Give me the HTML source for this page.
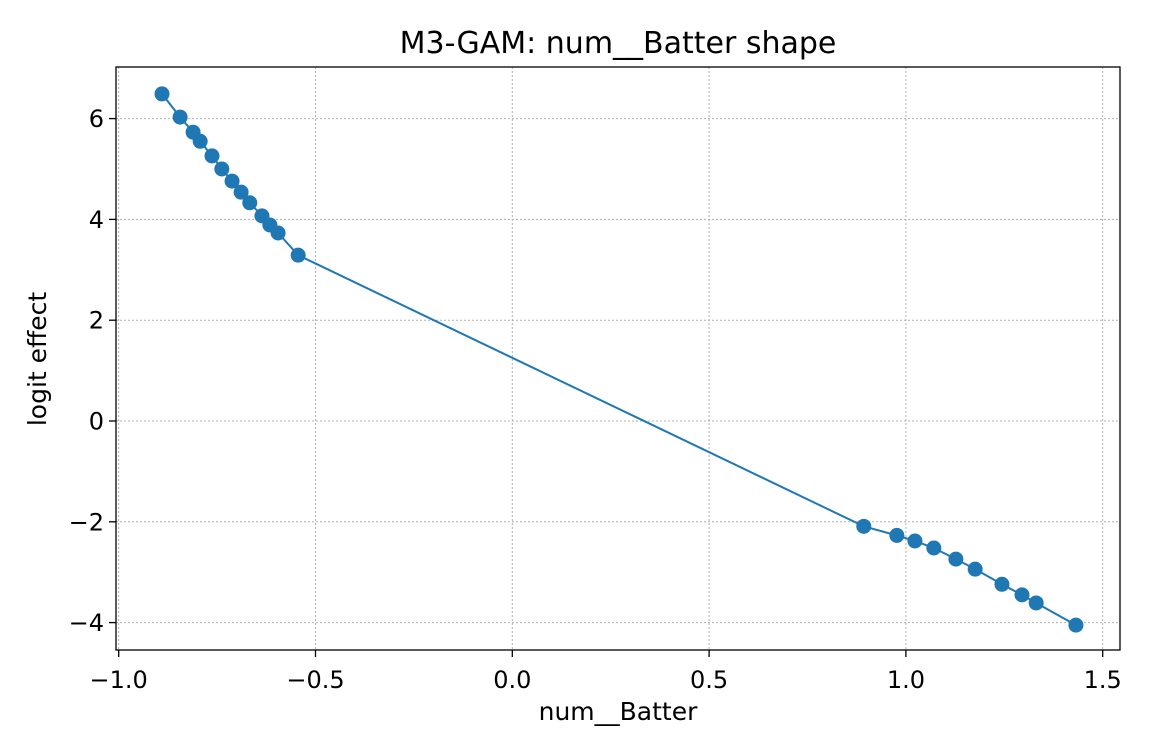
<!DOCTYPE html>
<html><head><meta charset="utf-8"><style>
html,body{margin:0;padding:0;background:#fff;}
svg{display:block;font-family:"DejaVu Sans","Liberation Sans",sans-serif;}
</style></head><body>
<svg id="chart" width="1152" height="756" viewBox="0 0 1152 756">
<rect x="0" y="0" width="1152" height="756" fill="#fff"/>
<text x="618" y="53" font-size="30" text-anchor="middle" fill="#000">M3-GAM: num__Batter shape</text>
<g id="grid"></g>
<g id="series"></g>
<rect x="116" y="67" width="1004" height="583" fill="none" stroke="#000" stroke-width="1.3"/>
<g id="xticks"></g>
<g id="yticks"></g>
<text x="618" y="720" font-size="25" text-anchor="middle">num__Batter</text>
<text transform="translate(46,359) rotate(-90)" font-size="25" text-anchor="middle">logit effect</text>
</svg>
<script>
const xVals=[-0.890,-0.844,-0.811,-0.793,-0.763,-0.738,-0.712,-0.689,-0.667,-0.636,-0.616,-0.595,-0.544,0.893,0.977,1.023,1.071,1.127,1.176,1.244,1.295,1.331,1.432];
const yVals=[6.49,6.03,5.73,5.55,5.26,5.00,4.76,4.54,4.33,4.07,3.89,3.73,3.29,-2.09,-2.27,-2.38,-2.52,-2.74,-2.94,-3.24,-3.45,-3.61,-4.05];
const xTicks=[-1.0,-0.5,0.0,0.5,1.0,1.5];
const xTickLabels=["\u22121.0","\u22120.5","0.0","0.5","1.0","1.5"];
const yTicks=[-4,-2,0,2,4,6];
const yTickLabels=["\u22124","\u22122","0","2","4","6"];
const NS="http://www.w3.org/2000/svg";
const X=v=>512.3+v*393.6;
const Y=v=>421-v*50.4;
function mk(tag,attrs,parent){const e=document.createElementNS(NS,tag);for(const k in attrs)e.setAttribute(k,attrs[k]);parent.appendChild(e);return e;}
const grid=document.getElementById('grid'),xt=document.getElementById('xticks'),yt=document.getElementById('yticks'),ser=document.getElementById('series');
xTicks.forEach((t,i)=>{const x=X(t);
 const g=mk('line',{x1:x,x2:x,y1:67,y2:650,stroke:'#b0b0b0','stroke-width':1,'stroke-dasharray':'2,2'},grid);
 
 
 const tk=mk('line',{x1:x,x2:x,y1:650,y2:657,stroke:'#000','stroke-width':1.3},xt);
 
 
 const l=mk('text',{x:x,y:688,'font-size':24,'text-anchor':'middle'},xt);l.textContent=xTickLabels[i];
 
 
});
yTicks.forEach((t,i)=>{const y=Y(t);
 const g=mk('line',{x1:116,x2:1120,y1:y,y2:y,stroke:'#b0b0b0','stroke-width':1,'stroke-dasharray':'2,2'},grid);
 
 
 const tk=mk('line',{x1:109,x2:116,y1:y,y2:y,stroke:'#000','stroke-width':1.3},yt);
 
 
 const l=mk('text',{x:104,y:y+8.5,'font-size':24,'text-anchor':'end'},yt);l.textContent=yTickLabels[i];
 
 
});
const pts=xVals.map((v,i)=>X(v)+','+Y(yVals[i])).join(' ');
const line=mk('polyline',{points:pts,fill:'none',stroke:'#1f77b4','stroke-width':2},ser);


xVals.forEach((v,i)=>{const c=mk('circle',{cx:X(v),cy:Y(yVals[i]),r:7.5,fill:'#1f77b4'},ser);
 
 
});
</script>
</body></html>
